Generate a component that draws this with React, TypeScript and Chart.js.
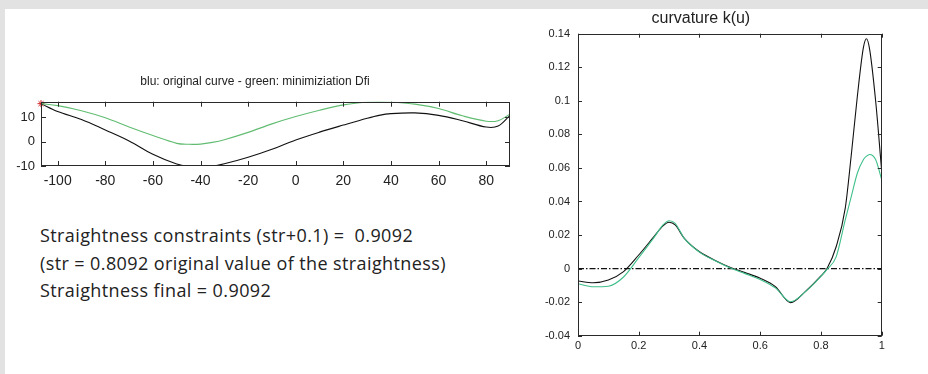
import React, { useEffect, useRef } from "react";
import { Chart, registerables } from "chart.js";

Chart.register(...registerables);

// ---- Left chart data: original curve (black) and minimized curve (green)
const LEFT_X = [-107, -100, -90, -80, -70, -60, -50, -45, -40, -35, -30, -20, -10, 0, 10, 20, 30, 35, 40, 50, 60, 70, 80, 85, 90];
const LEFT_ORIGINAL = [15.6, 12.4, 9.1, 4.8, 0.3, -5.2, -9.2, -10.1, -10.3, -10.1, -9.1, -6.4, -3.1, 0.7, 3.9, 6.8, 9.6, 10.8, 11.5, 11.8, 10.8, 8.6, 6.0, 6.4, 10.8];
const LEFT_GREEN = [15.6, 14.8, 12.7, 9.8, 6.0, 2.5, -0.7, -1.1, -1.0, -0.3, 0.8, 3.8, 7.3, 10.3, 12.9, 15.1, 16.3, 16.5, 16.3, 15.4, 13.6, 10.6, 8.4, 8.6, 11.3];
const LEFT_X_TICKS = [-100, -80, -60, -40, -20, 0, 20, 40, 60, 80];
const LEFT_Y_TICKS = [-10, 0, 10];

// ---- Right chart data: curvature k(u)
const RIGHT_U = [0, 0.05, 0.1, 0.15, 0.2, 0.25, 0.28, 0.3, 0.32, 0.35, 0.4, 0.45, 0.5, 0.55, 0.6, 0.65, 0.7, 0.75, 0.8, 0.82, 0.85, 0.88, 0.9, 0.92, 0.94, 0.95, 0.96, 0.98, 1];
const RIGHT_ORIGINAL = [-0.0074, -0.0084, -0.0068, -0.0018, 0.0081, 0.019, 0.0255, 0.0276, 0.026, 0.018, 0.01, 0.005, 0.0008, -0.0024, -0.0058, -0.0108, -0.0203, -0.0134, -0.0044, 0, 0.013, 0.036, 0.068, 0.103, 0.132, 0.137, 0.131, 0.1, 0.058];
const RIGHT_GREEN = [-0.009, -0.0108, -0.0105, -0.005, 0.0065, 0.0185, 0.026, 0.0285, 0.027, 0.018, 0.0098, 0.0048, 0.0005, -0.003, -0.0065, -0.0115, -0.0198, -0.0136, -0.0046, -0.0005, 0.007, 0.029, 0.043, 0.057, 0.065, 0.067, 0.068, 0.065, 0.053];
const RIGHT_ZERO_U = [0, 1];
const RIGHT_ZERO_K = [0, 0];
const RIGHT_X_TICKS = [0, 0.2, 0.4, 0.6, 0.8, 1];
const RIGHT_Y_TICKS = [-0.04, -0.02, 0, 0.02, 0.04, 0.06, 0.08, 0.1, 0.12, 0.14];

const LEFT_TITLE = "blu: original curve - green: minimiziation Dfi";
const RIGHT_TITLE = "curvature k(u)";
const TEXT_LINES = [
  "Straightness constraints (str+0.1) =  0.9092",
  "(str = 0.8092 original value of the straightness)",
  "Straightness final = 0.9092",
];

const FONT = "'Liberation Sans', Arial, sans-serif";

const pts = (xs: number[], ys: number[]) => xs.map((x, i) => ({ x, y: ys[i] }));

const boxPlugin = {
  id: "matlabBox",
  afterDatasetsDraw(chart: any, _args: any, opts: any) {
    const { ctx, chartArea, scales } = chart;
    const { left, right, top, bottom } = chartArea;
    const L = opts.tick || 4;
    ctx.save();
    ctx.strokeStyle = "#2a2a2a";
    ctx.lineWidth = 1;
    ctx.strokeRect(Math.round(left) + 0.5, Math.round(top) + 0.5, Math.round(right - left) - 1, Math.round(bottom - top) - 1);
    ctx.beginPath();
    scales.x.ticks.forEach((t: any) => {
      const px = Math.round(scales.x.getPixelForValue(t.value)) + 0.5;
      ctx.moveTo(px, bottom);
      ctx.lineTo(px, bottom - L);
      ctx.moveTo(px, top);
      ctx.lineTo(px, top + L);
    });
    scales.y.ticks.forEach((t: any) => {
      const py = Math.round(scales.y.getPixelForValue(t.value)) + 0.5;
      ctx.moveTo(left, py);
      ctx.lineTo(left + L, py);
      ctx.moveTo(right, py);
      ctx.lineTo(right - L, py);
    });
    ctx.stroke();
    ctx.restore();
  },
};

function LeftChart() {
  const ref = useRef<HTMLCanvasElement>(null);
  useEffect(() => {
    const chart = new Chart(ref.current!, {
      type: "line",
      data: {
        datasets: [
          {
            data: pts(LEFT_X, LEFT_GREEN),
            borderColor: "#62bd72",
            borderWidth: 1.1,
            pointRadius: 0,
            tension: 0.35,
          },
          {
            data: pts(LEFT_X, LEFT_ORIGINAL),
            borderColor: "#111111",
            borderWidth: 1.1,
            pointRadius: 0,
            tension: 0.35,
          },
          {
            data: pts(LEFT_X.slice(0, 1), LEFT_ORIGINAL.slice(0, 1)),
            borderColor: "#d02020",
            backgroundColor: "#d02020",
            pointStyle: "star",
            pointRadius: 3.5,
            borderWidth: 1,
            showLine: false,
            clip: false as any,
          },
        ],
      },
      options: {
        responsive: false,
        animation: false,
        layout: { padding: { left: 0, right: 10, top: 0, bottom: 0 } },
        plugins: {
          legend: { display: false },
          tooltip: { enabled: false },
          title: {
            display: true,
            text: LEFT_TITLE,
            color: "#222",
            font: { family: FONT, size: 12, weight: "normal" },
            padding: { top: 14, bottom: 13.3 },
          },
          matlabBox: { tick: 5 },
        } as any,
        scales: {
          x: {
            type: "linear",
            min: -107,
            max: 90,
            afterBuildTicks: (s: any) => {
              s.ticks = LEFT_X_TICKS.map((v) => ({ value: v }));
            },
            afterFit: (s: any) => {
              s.height = 34;
            },
            grid: { display: false, drawTicks: false },
            border: { display: false },
            ticks: {
              padding: 7,
              color: "#222",
              font: { family: FONT, size: 14 },
              maxRotation: 0,
              autoSkip: false,
              callback: (v: any) => String(v),
            },
          },
          y: {
            type: "linear",
            min: -10,
            max: 16.4,
            afterBuildTicks: (s: any) => {
              s.ticks = LEFT_Y_TICKS.map((v) => ({ value: v }));
            },
            afterFit: (s: any) => {
              s.width = 41;
            },
            grid: { display: false, drawTicks: false },
            border: { display: false },
            ticks: {
              padding: 6,
              color: "#222",
              font: { family: FONT, size: 13 },
              autoSkip: false,
              callback: (v: any) => String(v),
            },
          },
        },
      },
      plugins: [boxPlugin],
    } as any);
    return () => chart.destroy();
  }, []);
  return <canvas ref={ref} width={520} height={140} style={{ position: "absolute", left: 0, top: 60, width: 520, height: 140 }} />;
}

function RightChart() {
  const ref = useRef<HTMLCanvasElement>(null);
  useEffect(() => {
    const chart = new Chart(ref.current!, {
      type: "line",
      data: {
        datasets: [
          {
            data: pts(RIGHT_U, RIGHT_GREEN),
            borderColor: "#3fbf8a",
            borderWidth: 1.1,
            pointRadius: 0,
            cubicInterpolationMode: "monotone",
          },
          {
            data: pts(RIGHT_U, RIGHT_ORIGINAL),
            borderColor: "#111111",
            borderWidth: 1.1,
            pointRadius: 0,
            cubicInterpolationMode: "monotone",
          },
          {
            data: pts(RIGHT_ZERO_U, RIGHT_ZERO_K),
            borderColor: "#111111",
            borderWidth: 1.2,
            borderDash: [6, 2, 1.5, 2],
            pointRadius: 0,
          },
        ],
      },
      options: {
        responsive: false,
        animation: false,
        layout: { padding: { left: 0, right: 46.3, top: 0, bottom: 0 } },
        plugins: {
          legend: { display: false },
          tooltip: { enabled: false },
          title: {
            display: true,
            text: RIGHT_TITLE,
            color: "#222",
            font: { family: FONT, size: 16, weight: "normal" },
            padding: { top: 9.4, bottom: 5.1 },
          },
          matlabBox: { tick: 4 },
        } as any,
        scales: {
          x: {
            type: "linear",
            min: 0,
            max: 1,
            afterBuildTicks: (s: any) => {
              s.ticks = RIGHT_X_TICKS.map((v) => ({ value: v }));
            },
            afterFit: (s: any) => {
              s.height = 38.3;
            },
            grid: { display: false, drawTicks: false },
            border: { display: false },
            ticks: {
              padding: 4,
              color: "#222",
              font: { family: FONT, size: 11 },
              maxRotation: 0,
              autoSkip: false,
              callback: (v: any) => String(Math.round(v * 100) / 100),
            },
          },
          y: {
            type: "linear",
            min: -0.04,
            max: 0.14,
            afterBuildTicks: (s: any) => {
              s.ticks = RIGHT_Y_TICKS.map((v) => ({ value: v }));
            },
            afterFit: (s: any) => {
              s.width = 58;
            },
            grid: { display: false, drawTicks: false },
            border: { display: false },
            ticks: {
              padding: 8,
              color: "#222",
              font: { family: FONT, size: 11 },
              autoSkip: false,
              callback: (v: any) => String(Math.round(v * 100) / 100),
            },
          },
        },
      },
      plugins: [boxPlugin],
    } as any);
    return () => chart.destroy();
  }, []);
  return <canvas ref={ref} width={408} height={374} style={{ position: "absolute", left: 520, top: 0, width: 408, height: 374 }} />;
}

export default function App() {
  return (
    <div style={{ position: "absolute", left: 0, top: 0, width: 928, height: 374, background: "#e2e2e2", overflow: "hidden" }}>
      <div style={{ position: "absolute", left: 5, top: 9, width: 923, height: 365, background: "#ffffff" }} />
      <LeftChart />
      <RightChart />
      <div
        style={{
          position: "absolute",
          left: 40,
          top: 222,
          fontFamily: "'Open Sans', Lato, sans-serif",
          fontSize: 18,
          letterSpacing: "0.4px",
          lineHeight: "27.5px",
          color: "#222",
          whiteSpace: "pre",
        }}
      >
        {TEXT_LINES.map((l, i) => (
          <div key={i}>{l}</div>
        ))}
      </div>
    </div>
  );
}
